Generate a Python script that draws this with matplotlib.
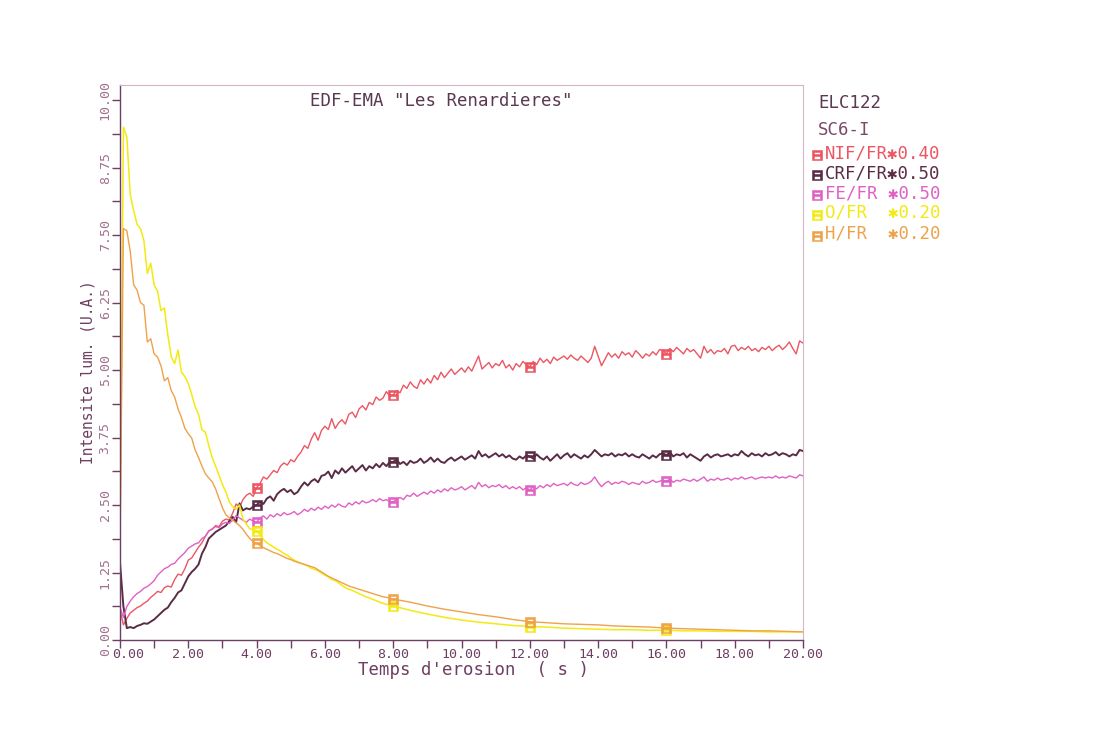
import numpy as np
import matplotlib
matplotlib.use("Agg")
import matplotlib.pyplot as plt
import matplotlib.transforms as mtransforms
from matplotlib.lines import Line2D
from matplotlib.ticker import MultipleLocator, FixedLocator

# ---- time bases (s) ----
t_fine = np.round(np.arange(0.0, 20.001, 0.1), 2)
t_decay = np.round(np.concatenate([np.arange(0.0, 8.001, 0.1), np.arange(8.5, 20.001, 0.5)]), 2)

# ---- NIF/FR * 0.40 ----
nif = [
    0.55, 0.28, 0.40, 0.50, 0.55, 0.60, 0.63, 0.68, 0.72, 0.79,
    0.84, 0.90, 0.88, 0.97, 1.00, 0.98, 1.12, 1.22, 1.20, 1.32,
    1.48, 1.52, 1.62, 1.72, 1.80, 1.92, 2.02, 2.05, 2.12, 2.10,
    2.20, 2.24, 2.22, 2.35, 2.52, 2.46, 2.60, 2.68, 2.72, 2.66,
    2.82, 2.90, 3.02, 2.98, 3.06, 3.14, 3.10, 3.22, 3.28, 3.24,
    3.34, 3.30, 3.40, 3.48, 3.60, 3.55, 3.72, 3.84, 3.70, 3.88,
    3.96, 3.90, 4.10, 3.92, 4.02, 4.08, 4.00, 4.18, 4.22, 4.12,
    4.28, 4.34, 4.26, 4.40, 4.36, 4.50, 4.44, 4.48, 4.60, 4.52,
    4.54, 4.62, 4.58, 4.72, 4.66, 4.78, 4.70, 4.66, 4.82, 4.74,
    4.84, 4.76, 4.90, 4.82, 4.96, 4.86, 4.94, 5.02, 4.92, 4.98,
    5.04, 4.96, 5.06, 4.98, 5.12, 5.26, 5.02, 5.08, 5.14, 5.04,
    5.12, 5.08, 5.18, 5.04, 5.10, 5.00, 5.12, 5.06, 5.16, 5.10,
    5.06, 5.16, 5.10, 5.22, 5.14, 5.20, 5.12, 5.24, 5.18, 5.22,
    5.26, 5.20, 5.28, 5.22, 5.18, 5.26, 5.20, 5.14, 5.22, 5.44,
    5.26, 5.08, 5.20, 5.32, 5.24, 5.30, 5.22, 5.34, 5.28, 5.32,
    5.24, 5.36, 5.30, 5.22, 5.30, 5.26, 5.34, 5.28, 5.38, 5.36,
    5.30, 5.40, 5.34, 5.42, 5.36, 5.30, 5.40, 5.34, 5.38, 5.30,
    5.22, 5.44, 5.32, 5.38, 5.30, 5.36, 5.34, 5.40, 5.30, 5.44,
    5.46, 5.36, 5.42, 5.38, 5.44, 5.36, 5.40, 5.34, 5.42, 5.38,
    5.44, 5.36, 5.42, 5.46, 5.38, 5.44, 5.52, 5.40, 5.30, 5.54,
    5.50,
]

# ---- CRF/FR * 0.50 ----
crf = [
    1.43, 0.62, 0.22, 0.24, 0.22, 0.26, 0.28, 0.31, 0.30, 0.34,
    0.38, 0.44, 0.50, 0.56, 0.60, 0.70, 0.78, 0.88, 0.92, 1.05,
    1.18, 1.26, 1.32, 1.40, 1.60, 1.72, 1.88, 1.94, 2.00, 2.04,
    2.08, 2.12, 2.20, 2.28, 2.18, 2.53, 2.40, 2.44, 2.42, 2.47,
    2.50, 2.56, 2.52, 2.62, 2.66, 2.58, 2.70, 2.76, 2.80, 2.74,
    2.78, 2.70, 2.74, 2.84, 2.92, 2.86, 2.94, 2.98, 2.92, 3.04,
    3.06, 3.12, 3.00, 3.14, 3.08, 3.18, 3.10, 3.16, 3.22, 3.12,
    3.18, 3.24, 3.14, 3.22, 3.18, 3.26, 3.20, 3.28, 3.22, 3.30,
    3.30, 3.34, 3.26, 3.30, 3.24, 3.32, 3.28, 3.30, 3.36, 3.28,
    3.32, 3.38, 3.30, 3.36, 3.30, 3.28, 3.34, 3.38, 3.32, 3.36,
    3.40, 3.34, 3.38, 3.42, 3.36, 3.50, 3.40, 3.44, 3.38, 3.42,
    3.46, 3.40, 3.44, 3.38, 3.42, 3.36, 3.34, 3.40, 3.36, 3.42,
    3.40, 3.36, 3.44, 3.38, 3.34, 3.40, 3.32, 3.38, 3.44, 3.36,
    3.42, 3.46, 3.38, 3.44, 3.40, 3.36, 3.42, 3.38, 3.44, 3.52,
    3.46, 3.40, 3.44, 3.42, 3.46, 3.40, 3.44, 3.42, 3.46, 3.40,
    3.44, 3.40, 3.38, 3.44, 3.40, 3.36, 3.42, 3.38, 3.44, 3.46,
    3.42, 3.48, 3.40, 3.44, 3.42, 3.46, 3.38, 3.44, 3.40, 3.36,
    3.32, 3.40, 3.44, 3.38, 3.42, 3.44, 3.40, 3.42, 3.44, 3.40,
    3.44, 3.42, 3.50, 3.44, 3.40, 3.46, 3.42, 3.44, 3.40, 3.46,
    3.42, 3.44, 3.48, 3.42, 3.46, 3.44, 3.40, 3.44, 3.42, 3.52,
    3.50,
]

# ---- FE/FR * 0.50 ----
fe = [
    0.60, 0.42, 0.62, 0.72, 0.80, 0.86, 0.90, 0.96, 0.99, 1.04,
    1.10, 1.20, 1.26, 1.32, 1.35, 1.40, 1.42, 1.50, 1.56, 1.62,
    1.70, 1.74, 1.78, 1.80, 1.88, 1.92, 2.02, 2.06, 2.10, 2.08,
    2.15, 2.18, 2.16, 2.22, 2.30, 2.26, 2.22, 2.18, 2.24, 2.20,
    2.18, 2.26, 2.30, 2.24, 2.32, 2.28, 2.34, 2.30, 2.36, 2.32,
    2.34, 2.38, 2.32, 2.36, 2.42, 2.38, 2.44, 2.40, 2.46, 2.42,
    2.48, 2.44, 2.50, 2.46, 2.52, 2.48, 2.46, 2.54, 2.50, 2.56,
    2.52, 2.58, 2.54, 2.56, 2.60, 2.56, 2.62, 2.58, 2.60, 2.56,
    2.56, 2.60, 2.64, 2.60, 2.68, 2.66, 2.72, 2.66, 2.70, 2.74,
    2.70, 2.76, 2.72, 2.78, 2.74, 2.80, 2.76, 2.82, 2.78, 2.80,
    2.84, 2.78, 2.82, 2.86, 2.80, 2.92, 2.84, 2.88, 2.82, 2.86,
    2.84, 2.88, 2.82, 2.86, 2.80, 2.84, 2.80, 2.84, 2.78, 2.82,
    2.78, 2.84, 2.80, 2.86, 2.82, 2.88, 2.84, 2.90, 2.86, 2.88,
    2.90, 2.86, 2.92, 2.88, 2.86, 2.92, 2.88, 2.90, 2.94, 3.02,
    2.92, 2.84, 2.90, 2.94, 2.88, 2.92, 2.90, 2.94, 2.92, 2.88,
    2.92, 2.90, 2.88, 2.94, 2.90, 2.92, 2.96, 2.92, 2.94, 2.96,
    2.94, 2.98, 2.92, 2.96, 2.94, 2.98, 2.96, 2.94, 2.98, 2.94,
    2.98, 3.02, 2.94, 2.98, 2.96, 3.00, 2.96, 2.98, 3.00, 2.96,
    3.00, 2.98, 3.02, 2.98, 3.00, 3.02, 2.98, 3.00, 3.02, 3.00,
    3.02, 3.00, 3.04, 3.00, 3.02, 3.00, 3.04, 3.02, 3.00, 3.06,
    3.04,
]

# ---- O/FR * 0.20 ----
o_fr = [
    1.70, 9.50, 9.32, 8.25, 7.95, 7.70, 7.62, 7.40, 6.79, 6.98,
    6.58, 6.46, 6.10, 6.15, 5.65, 5.25, 5.12, 5.37, 4.96, 4.88,
    4.75, 4.55, 4.32, 4.18, 3.89, 3.85, 3.60, 3.38, 3.22, 3.05,
    2.88, 2.74, 2.56, 2.47, 2.42, 2.50, 2.24, 2.15, 2.06, 2.05,
    2.02, 1.95, 1.86, 1.80, 1.76, 1.72, 1.68, 1.65, 1.60, 1.57,
    1.52, 1.48, 1.45, 1.42, 1.40, 1.37, 1.33, 1.31, 1.28, 1.24,
    1.20, 1.17, 1.12, 1.10, 1.06, 1.01, 0.97, 0.94, 0.92, 0.89,
    0.86, 0.83, 0.80, 0.78, 0.75, 0.73, 0.70, 0.68, 0.66, 0.65,
    0.63,
    0.55, 0.48, 0.42, 0.37, 0.33, 0.30, 0.27, 0.25, 0.24, 0.22,
    0.21, 0.20, 0.19, 0.19, 0.18, 0.18, 0.17, 0.17, 0.16, 0.16,
    0.16, 0.15, 0.15, 0.15,
]

# ---- H/FR * 0.20 ----
h_fr = [
    1.70, 7.62, 7.58, 7.20, 6.58, 6.48, 6.25, 6.20, 5.52, 5.58,
    5.30, 5.24, 5.08, 4.80, 4.86, 4.62, 4.50, 4.28, 4.12, 3.92,
    3.82, 3.74, 3.52, 3.38, 3.22, 3.08, 3.00, 2.93, 2.80, 2.62,
    2.45, 2.32, 2.26, 2.22, 2.17, 2.12, 2.05, 1.96, 1.88, 1.82,
    1.79, 1.75, 1.71, 1.68, 1.65, 1.62, 1.60, 1.57, 1.54, 1.51,
    1.49, 1.46, 1.44, 1.42, 1.40, 1.38, 1.36, 1.34, 1.30, 1.26,
    1.22, 1.18, 1.15, 1.12, 1.09, 1.06, 1.03, 1.00, 0.98, 0.96,
    0.94, 0.92, 0.90, 0.88, 0.86, 0.84, 0.82, 0.80, 0.79, 0.78,
    0.76,
    0.70, 0.63, 0.57, 0.52, 0.47, 0.43, 0.38, 0.34, 0.32, 0.30,
    0.29, 0.28, 0.26, 0.25, 0.24, 0.22, 0.21, 0.20, 0.19, 0.18,
    0.17, 0.17, 0.16, 0.15,
]

labels = ["NIF/FR\u27310.40", "CRF/FR\u27310.50", "FE/FR \u27310.50",
          "O/FR  \u27310.20", "H/FR  \u27310.20"]
colors = ["#ec5662", "#5a2c44", "#e060c4", "#f2ea12", "#eea24a"]
widths = [1.0, 1.4, 1.0, 1.1, 1.0]
series = [(t_fine, nif), (t_fine, crf), (t_fine, fe), (t_decay, o_fr), (t_decay, h_fr)]
mark_times = [4.0, 8.0, 12.0, 16.0]

x_ticks = np.arange(0, 21, 2)
y_ticks = np.arange(0, 10.01, 1.25)

ink = "#6e3f62"
mono = "DejaVu Sans Mono"
box_marker = "$\u229f$"

W, H = 1108, 748
fig = plt.figure(figsize=(W / 100, H / 100), dpi=100)
fig.patch.set_facecolor("white")
ax = fig.add_axes([120 / W, 1 - 640 / H, 683 / W, 555 / H])

for (tt, vals), col, lw in zip(series, colors, widths):
    tt = np.asarray(tt)
    idx = [int(np.argmin(np.abs(tt - m))) for m in mark_times]
    ax.plot(tt, vals, color=col, lw=lw,
            marker=box_marker, markevery=idx, markersize=6.5,
            markeredgewidth=0.4)

ax.set_xlim(0, 20)
ax.set_ylim(0, 10.28)

ax.xaxis.set_major_locator(FixedLocator(x_ticks))
ax.xaxis.set_minor_locator(MultipleLocator(1))
ax.yaxis.set_major_locator(FixedLocator(y_ticks))
ax.yaxis.set_minor_locator(MultipleLocator(0.625))
ax.set_xticklabels([f"{v:.2f}" for v in x_ticks], fontfamily=mono, fontsize=9.5, color=ink)
ax.set_yticklabels([f"{v:.2f}" for v in y_ticks], fontfamily=mono, fontsize=9.5,
                   color="#a0708e", rotation=90, va="center")
ax.tick_params(axis="both", which="both", direction="out", length=6, width=1,
               color=ink, top=False, right=False)
ax.tick_params(axis="x", pad=0)
ax.tick_params(axis="y", pad=0)

# nudge the first time label clear of the vertical axis labels
first = ax.xaxis.get_major_ticks()[0].label1
first.set_transform(first.get_transform() +
                    mtransforms.ScaledTranslation(8 / 100, 0, fig.dpi_scale_trans))

for side, sp in ax.spines.items():
    sp.set_color(ink if side in ("left", "bottom") else "#d2b6c6")
    sp.set_linewidth(1.0 if side in ("left", "bottom") else 0.8)

ax.text(9.4, 9.98, 'EDF-EMA "Les Renardieres"', ha="center", va="center",
        fontfamily=mono, fontsize=12.5, color="#5a3852")
ax.set_xlabel("Temps d'erosion  ( s )", fontfamily=mono, fontsize=12.5, color=ink,
              va="center")
ax.xaxis.set_label_coords((473 - 120) / 683, (640 - 670) / 555)
ax.set_ylabel("Intensite lum. (U.A.)", fontfamily=mono, fontsize=10.5, color=ink,
              va="center")
ax.yaxis.set_label_coords((88 - 120) / 683, (640 - 372) / 555)

# header and key on the right of the frame
fig.text(818 / W, 1 - 103 / H, "ELC122", fontfamily=mono, fontsize=12.5,
         color="#5a3852", va="center")
fig.text(818 / W, 1 - 130 / H, "SC6-I", fontfamily=mono, fontsize=12.5,
         color="#7a4a6c", va="center")
key_rows = [153, 173, 193, 213, 234]
for lab, col, yy in zip(labels, colors, key_rows):
    fig.add_artist(Line2D([817 / W], [1 - (yy + 2) / H], transform=fig.transFigure,
                          ls="none", marker=box_marker, markersize=6.5,
                          markeredgewidth=0.4, color=col))
    fig.text(825 / W, 1 - yy / H, lab, fontfamily=mono, fontsize=12.5,
             color=col, va="center")

fig.savefig("out.png", dpi=100, facecolor="white")
